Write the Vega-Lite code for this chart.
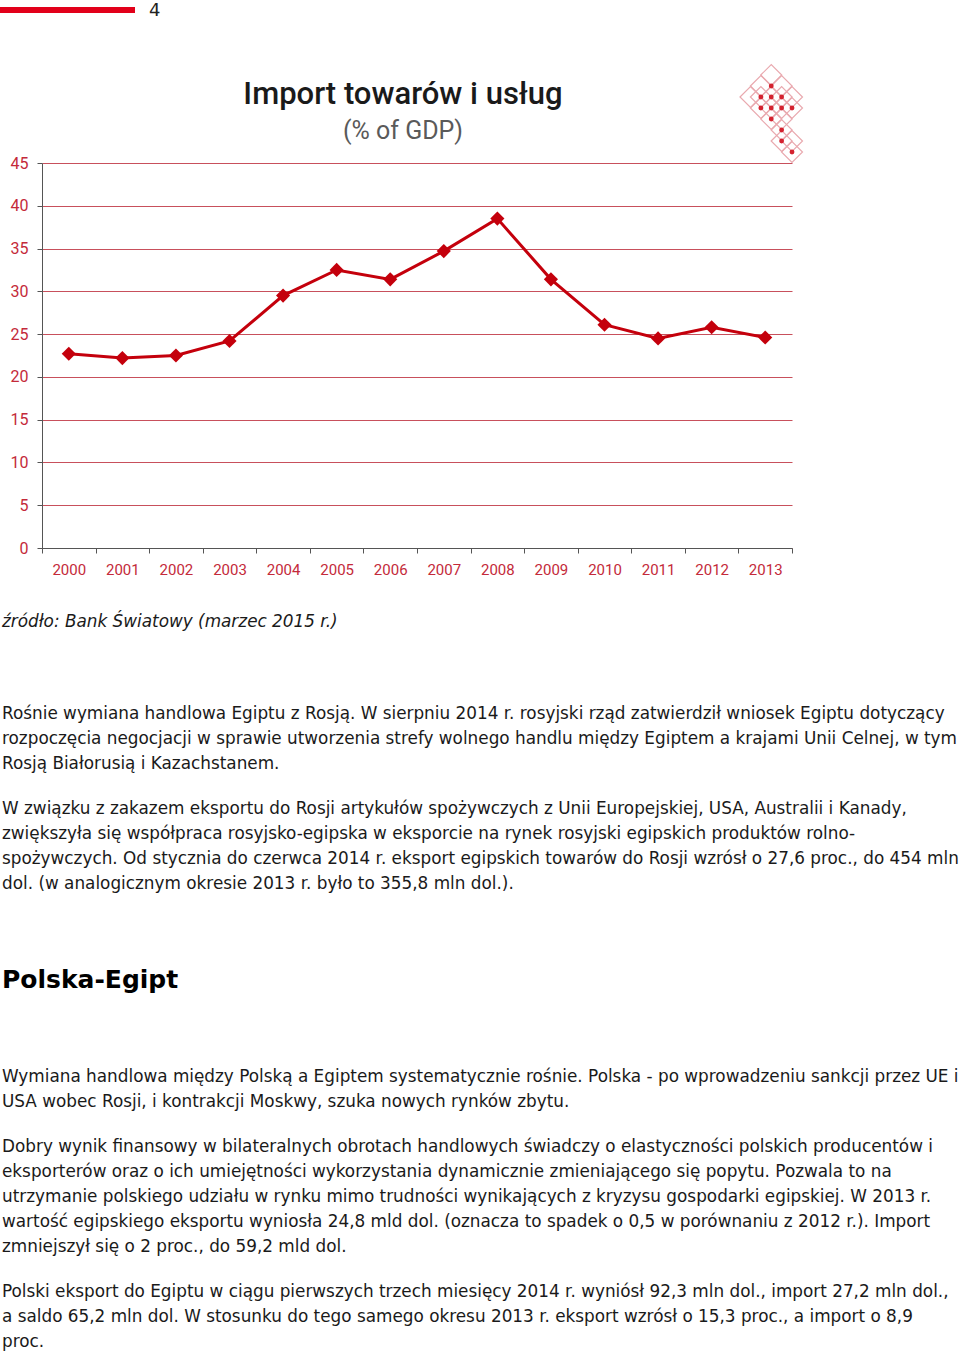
{
  "$schema": "https://vega.github.io/schema/vega-lite/v6.json",
  "padding": 0,
  "background": "white",
  "config": {"view": {"stroke": null}, "font": "DejaVu Sans"},
  "datasets": {
    "imports": [
      {"year": "2000", "value": 22.7}, {"year": "2001", "value": 22.2}, {"year": "2002", "value": 22.5},
      {"year": "2003", "value": 24.2}, {"year": "2004", "value": 29.5}, {"year": "2005", "value": 32.5},
      {"year": "2006", "value": 31.4}, {"year": "2007", "value": 34.7}, {"year": "2008", "value": 38.5},
      {"year": "2009", "value": 31.4}, {"year": "2010", "value": 26.1}, {"year": "2011", "value": 24.5},
      {"year": "2012", "value": 25.8}, {"year": "2013", "value": 24.6}
    ],
    "logo": [
      {"kind": "cell", "c": 2, "r": -2}, {"kind": "cell", "c": 1, "r": -1}, {"kind": "cell", "c": 3, "r": -1},
      {"kind": "cell", "c": 0, "r": 0}, {"kind": "cell", "c": 1, "r": 0}, {"kind": "cell", "c": 2, "r": 0},
      {"kind": "cell", "c": 3, "r": 0}, {"kind": "cell", "c": 4, "r": 0}, {"kind": "cell", "c": 1, "r": 1},
      {"kind": "cell", "c": 2, "r": 1}, {"kind": "cell", "c": 3, "r": 1}, {"kind": "cell", "c": 4, "r": 1},
      {"kind": "cell", "c": 2, "r": 2}, {"kind": "cell", "c": 3, "r": 2}, {"kind": "cell", "c": 3, "r": 3},
      {"kind": "cell", "c": 3, "r": 4}, {"kind": "cell", "c": 4, "r": 4}, {"kind": "cell", "c": 4, "r": 5},
      {"kind": "dot", "c": 2, "r": -1}, {"kind": "dot", "c": 1, "r": 0}, {"kind": "dot", "c": 2, "r": 0}, {"kind": "dot", "c": 3, "r": 0},
      {"kind": "dot", "c": 1, "r": 1}, {"kind": "dot", "c": 2, "r": 1}, {"kind": "dot", "c": 3, "r": 1},
      {"kind": "dot", "c": 4, "r": 1}, {"kind": "dot", "c": 2, "r": 2}, {"kind": "dot", "c": 3, "r": 3},
      {"kind": "dot", "c": 3, "r": 4}, {"kind": "dot", "c": 4, "r": 5}
    ],
    "text": [
      {"block": "src", "line": 0, "text": "źródło: Bank Światowy (marzec 2015 r.)"},
      {"block": "p1", "line": 0, "text": "Rośnie wymiana handlowa Egiptu z Rosją. W sierpniu 2014 r. rosyjski rząd zatwierdził wniosek Egiptu dotyczący"},
      {"block": "p1", "line": 1, "text": "rozpoczęcia negocjacji w sprawie utworzenia strefy wolnego handlu między Egiptem a krajami Unii Celnej, w tym"},
      {"block": "p1", "line": 2, "text": "Rosją Białorusią i Kazachstanem."},
      {"block": "p2", "line": 0, "text": "W związku z zakazem eksportu do Rosji artykułów spożywczych z Unii Europejskiej, USA, Australii i Kanady,"},
      {"block": "p2", "line": 1, "text": "zwiększyła się współpraca rosyjsko-egipska w eksporcie na rynek rosyjski egipskich produktów rolno-"},
      {"block": "p2", "line": 2, "text": "spożywczych. Od stycznia do czerwca 2014 r. eksport egipskich towarów do Rosji wzrósł o 27,6 proc., do 454 mln"},
      {"block": "p2", "line": 3, "text": "dol. (w analogicznym okresie 2013 r. było to 355,8 mln dol.)."},
      {"block": "h", "line": 0, "text": "Polska-Egipt"},
      {"block": "p3", "line": 0, "text": "Wymiana handlowa między Polską a Egiptem systematycznie rośnie. Polska - po wprowadzeniu sankcji przez UE i"},
      {"block": "p3", "line": 1, "text": "USA wobec Rosji, i kontrakcji Moskwy, szuka nowych rynków zbytu."},
      {"block": "p4", "line": 0, "text": "Dobry wynik finansowy w bilateralnych obrotach handlowych świadczy o elastyczności polskich producentów i"},
      {"block": "p4", "line": 1, "text": "eksporterów oraz o ich umiejętności wykorzystania dynamicznie zmieniającego się popytu. Pozwala to na"},
      {"block": "p4", "line": 2, "text": "utrzymanie polskiego udziału w rynku mimo trudności wynikających z kryzysu gospodarki egipskiej. W 2013 r."},
      {"block": "p4", "line": 3, "text": "wartość egipskiego eksportu wyniosła 24,8 mld dol. (oznacza to spadek o 0,5 w porównaniu z 2012 r.). Import"},
      {"block": "p4", "line": 4, "text": "zmniejszył się o 2 proc., do 59,2 mld dol."},
      {"block": "p5", "line": 0, "text": "Polski eksport do Egiptu w ciągu pierwszych trzech miesięcy 2014 r. wyniósł 92,3 mln dol., import 27,2 mln dol.,"},
      {"block": "p5", "line": 1, "text": "a saldo 65,2 mln dol. W stosunku do tego samego okresu 2013 r. eksport wzrósł o 15,3 proc., a import o 8,9"},
      {"block": "p5", "line": 2, "text": "proc."}
    ]
  },
  "spacing": 32,
  "vconcat": [
    {
      "spacing": 0,
      "vconcat": [
        {
          "width": 960,
          "height": 20,
          "data": {"values": [{"page": "4"}]},
          "layer": [
            {
              "mark": {"type": "rect", "color": "#e2001a"},
              "encoding": {
                "x": {"datum": 0, "type": "quantitative", "scale": {"domain": [0, 960], "nice": false}, "axis": null},
                "x2": {"datum": 135},
                "y": {"datum": 7, "type": "quantitative", "scale": {"domain": [0, 20], "reverse": true, "nice": false}, "axis": null},
                "y2": {"datum": 13}
              }
            },
            {
              "mark": {"type": "text", "align": "left", "baseline": "alphabetic", "fontSize": 18, "color": "#222222"},
              "encoding": {
                "x": {"datum": 149, "type": "quantitative"},
                "y": {"datum": 16, "type": "quantitative"},
                "text": {"field": "page"}
              }
            }
          ]
        },
        {
          "width": 960,
          "height": 528,
          "title": {
            "text": "Import towarów i usług",
            "subtitle": "(% of GDP)",
            "anchor": "middle",
            "frame": "group",
            "dx": -77,
            "offset": -125,
            "font": "Roboto",
            "fontSize": 31,
            "fontWeight": 500,
            "color": "#1a1a1a",
            "subtitleFont": "Roboto",
            "subtitleFontSize": 25,
            "subtitleColor": "#5a5a5a",
            "subtitlePadding": 8
          },
          "layer": [
            {
              "data": {"name": "imports"},
              "mark": {
                "type": "line",
                "color": "#c4000c",
                "strokeWidth": 3,
                "point": {"shape": "diamond", "size": 200, "filled": true, "color": "#c4000c", "opacity": 1}
              },
              "encoding": {
                "x": {
                  "field": "year",
                  "type": "ordinal",
                  "bandPosition": 0.5,
                  "scale": {"type": "band", "range": [42, 792], "paddingInner": 0, "paddingOuter": 0},
                  "axis": {
                    "title": null,
                    "tickBand": "extent",
                    "labelAngle": 0,
                    "grid": false,
                    "domainColor": "#555555",
                    "tickColor": "#555555",
                    "tickSize": 5,
                    "labelColor": "#c42a3a",
                    "labelFont": "Roboto",
                    "labelFontSize": 15,
                    "labelPadding": 9
                  }
                },
                "y": {
                  "field": "value",
                  "type": "quantitative",
                  "scale": {"domain": [0, 45], "range": [528, 143], "nice": false, "zero": true},
                  "axis": {
                    "title": null,
                    "values": [0, 5, 10, 15, 20, 25, 30, 35, 40, 45],
                    "offset": -42,
                    "grid": true,
                    "gridColor": "#c8505c",
                    "gridWidth": 1,
                    "domainColor": "#555555",
                    "tickColor": "#555555",
                    "tickSize": 5,
                    "labelColor": "#c42a3a",
                    "labelFont": "Roboto",
                    "labelFontSize": 16,
                    "labelPadding": 9
                  }
                }
              }
            },
            {
              "data": {"name": "logo"},
              "layer": [
                {
                  "transform": [{"filter": "datum.kind == 'cell'"}],
                  "mark": {"type": "point", "shape": "diamond", "size": 440, "filled": false, "stroke": "#e9a9af", "strokeWidth": 1.2, "opacity": 1},
                  "encoding": {
                    "x": {"field": "c", "type": "quantitative", "scale": {"domain": [0, 4], "range": [750.5, 792], "nice": false, "zero": false}, "axis": null},
                    "y": {"field": "r", "type": "quantitative", "scale": {"domain": [-2, 5], "range": [55, 132], "nice": false, "zero": false}, "axis": null}
                  }
                },
                {
                  "transform": [{"filter": "datum.kind == 'dot'"}],
                  "mark": {"type": "point", "shape": "circle", "size": 24, "filled": true, "color": "#d4222f", "opacity": 1},
                  "encoding": {
                    "x": {"field": "c", "type": "quantitative", "axis": null},
                    "y": {"field": "r", "type": "quantitative", "axis": null}
                  }
                }
              ]
            }
          ],
          "resolve": {"scale": {"x": "independent", "y": "independent"}}
        }
      ]
    },
    {
      "spacing": 67,
      "vconcat": [
        {
          "data": {"name": "text"},
          "transform": [{"filter": "datum.block == 'src'"}],
          "width": 960,
          "height": {"step": 25},
          "mark": {"type": "text", "align": "left", "baseline": "middle", "font": "DejaVu Sans", "fontSize": 16.85, "fontStyle": "italic", "color": "#1a1a1a"},
          "encoding": {"y": {"field": "line", "type": "ordinal", "axis": null}, "x": {"value": 2}, "text": {"field": "text"}}
        },
        {
          "spacing": 71,
          "vconcat": [
            {
              "spacing": 20,
              "vconcat": [
                {
                  "data": {"name": "text"},
                  "transform": [{"filter": "datum.block == 'p1'"}],
                  "width": 960,
                  "height": {"step": 25},
                  "mark": {"type": "text", "align": "left", "baseline": "middle", "font": "DejaVu Sans", "fontSize": 16.85, "color": "#1a1a1a"},
                  "encoding": {"y": {"field": "line", "type": "ordinal", "axis": null}, "x": {"value": 2}, "text": {"field": "text"}}
                },
                {
                  "data": {"name": "text"},
                  "transform": [{"filter": "datum.block == 'p2'"}],
                  "width": 960,
                  "height": {"step": 25},
                  "mark": {"type": "text", "align": "left", "baseline": "middle", "font": "DejaVu Sans", "fontSize": 16.85, "color": "#1a1a1a"},
                  "encoding": {"y": {"field": "line", "type": "ordinal", "axis": null}, "x": {"value": 2}, "text": {"field": "text"}}
                }
              ]
            },
            {
              "data": {"name": "text"},
              "transform": [{"filter": "datum.block == 'h'"}],
              "width": 960,
              "height": {"step": 25},
              "mark": {"type": "text", "align": "left", "baseline": "middle", "font": "DejaVu Sans", "fontSize": 25, "fontWeight": "bold", "color": "#000000"},
              "encoding": {"y": {"field": "line", "type": "ordinal", "axis": null}, "x": {"value": 2}, "text": {"field": "text"}}
            },
            {
              "spacing": 20,
              "vconcat": [
                {
                  "data": {"name": "text"},
                  "transform": [{"filter": "datum.block == 'p3'"}],
                  "width": 960,
                  "height": {"step": 25},
                  "mark": {"type": "text", "align": "left", "baseline": "middle", "font": "DejaVu Sans", "fontSize": 16.85, "color": "#1a1a1a"},
                  "encoding": {"y": {"field": "line", "type": "ordinal", "axis": null}, "x": {"value": 2}, "text": {"field": "text"}}
                },
                {
                  "data": {"name": "text"},
                  "transform": [{"filter": "datum.block == 'p4'"}],
                  "width": 960,
                  "height": {"step": 25},
                  "mark": {"type": "text", "align": "left", "baseline": "middle", "font": "DejaVu Sans", "fontSize": 16.85, "color": "#1a1a1a"},
                  "encoding": {"y": {"field": "line", "type": "ordinal", "axis": null}, "x": {"value": 2}, "text": {"field": "text"}}
                },
                {
                  "data": {"name": "text"},
                  "transform": [{"filter": "datum.block == 'p5'"}],
                  "width": 960,
                  "height": {"step": 25},
                  "mark": {"type": "text", "align": "left", "baseline": "middle", "font": "DejaVu Sans", "fontSize": 16.85, "color": "#1a1a1a"},
                  "encoding": {"y": {"field": "line", "type": "ordinal", "axis": null}, "x": {"value": 2}, "text": {"field": "text"}}
                }
              ]
            }
          ]
        }
      ]
    }
  ]
}
